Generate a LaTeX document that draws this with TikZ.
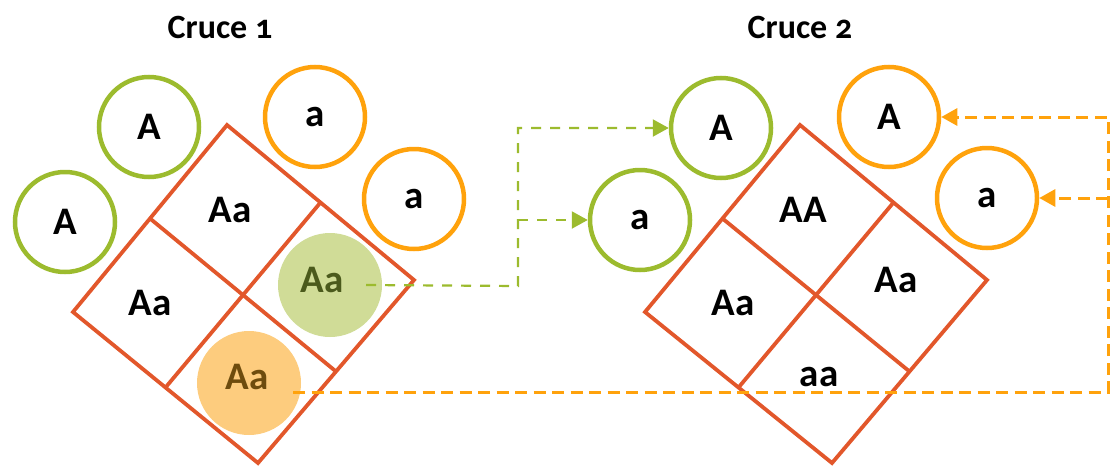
\documentclass[tikz,border=0pt]{standalone}
\usepackage{fontspec}
\setmainfont{Carlito}[Numbers=OldStyle]
\usetikzlibrary{arrows.meta,calc}
\definecolor{ringgreen}{HTML}{9CBB2E}
\definecolor{ringorange}{HTML}{FFA20C}
\definecolor{gridred}{HTML}{E2572B}
\definecolor{fillgreen}{HTML}{D0DC97}
\definecolor{fillorange}{HTML}{FDCC7E}
\definecolor{txtgreen}{HTML}{4B5A1C}
\definecolor{txtorange}{HTML}{6E4C0E}
\begin{document}
\begin{tikzpicture}[x=1pt,y=-1pt,
  allele/.style={circle,draw,line width=4.5pt,minimum size=100pt,inner sep=0pt,
    font=\fontsize{39}{39}\selectfont\bfseries},
  galle/.style={allele,draw=ringgreen},
  oalle/.style={allele,draw=ringorange},
  hilite/.style={circle,minimum size=104pt,inner sep=0pt,draw=none},
  cell/.style={inner sep=0pt,font=\fontsize{39}{39}\selectfont\bfseries},
  title/.style={inner sep=0pt,font=\fontsize{34}{34}\selectfont\bfseries},
  grid/.style={draw=gridred,line width=3.8pt,line join=miter},
  gdash/.style={draw=ringgreen,line width=2.2pt,dash pattern=on 10pt off 9pt},
  odash/.style={draw=ringorange,line width=3pt,dash pattern=on 12pt off 6.5pt},
  tip/.style={-{Triangle[length=16pt,width=17pt]}}]
\useasboundingbox (0,0) rectangle (1110,466);

% titles
\node[title] (t1) at (220,27) {Cruce 1};
\node[title] (t2) at (800,27) {Cruce 2};

% diamond 1
\coordinate (T1) at (227,125); \coordinate (R1) at (414,280);
\coordinate (B1) at (258,463); \coordinate (L1) at (73,312);
\draw[grid] (T1) -- (R1) -- (B1) -- (L1) -- cycle;
\draw[grid] ($(T1)!0.5!(L1)$) -- ($(R1)!0.5!(B1)$);
\draw[grid] ($(T1)!0.5!(R1)$) -- ($(L1)!0.5!(B1)$);

% diamond 2
\coordinate (T2) at (800,125); \coordinate (R2) at (987,280);
\coordinate (B2) at (832,463); \coordinate (L2) at (645,312);
\draw[grid] (T2) -- (R2) -- (B2) -- (L2) -- cycle;
\draw[grid] ($(T2)!0.5!(L2)$) -- ($(R2)!0.5!(B2)$);
\draw[grid] ($(T2)!0.5!(R2)$) -- ($(L2)!0.5!(B2)$);

% highlighted offspring
\node[hilite,fill=fillgreen] (gAa) at (330,285) {};
\node[hilite,fill=fillorange] (oAa) at (249,383) {};

% cell labels cross 1
\node[cell] (c1a) at (230,210) {Aa};
\node[cell] (c1b) at (150,303) {Aa};
\node[cell,text=txtgreen] (c1c) at (322,280) {Aa};
\node[cell,text=txtorange] (c1d) at (247,377) {Aa};

% cell labels cross 2
\node[cell] (c2a) at (803,210) {AA};
\node[cell] (c2b) at (733,303) {Aa};
\node[cell] (c2c) at (896,280) {Aa};
\node[cell] (c2d) at (819,377) {aa};

% gametes cross 1
\node[galle] (gA1) at (149,127) {A};
\node[galle] (gA1b) at (65,222) {A};
\node[oalle] (oa1) at (315,117) {a};
\node[oalle] (oa1b) at (414,199) {a};

% gametes cross 2
\node[galle] (gA2) at (721,128) {A};
\node[galle] (ga2) at (640,220) {a};
\node[oalle] (oA2) at (889,117) {A};
\node[oalle] (oa2) at (987,198) {a};

% connectors
\coordinate (gj) at (518,286);
\coordinate (oj) at (1108,392);
\draw[gdash,tip] ([xshift=36pt]gAa.center) -- (gj) |- (gA2.west);
\draw[gdash,tip] (gj |- ga2.west) -- (ga2.west);
\draw[odash,tip] ([shift={(44,9)}]oAa.center) -- (oj) |- (oA2.east);
\draw[odash,tip] (oj |- oa2.east) -- (oa2.east);
\end{tikzpicture}
\end{document}
